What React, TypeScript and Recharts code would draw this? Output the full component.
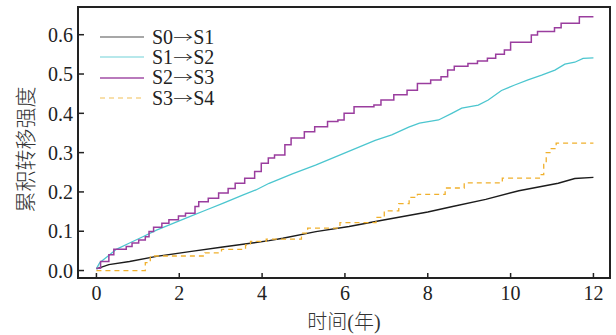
import React from "react";
import { LineChart, Line, XAxis, YAxis, ReferenceArea, Label } from "recharts";

// ---- data (time in years, cumulative intensity) ----
const s01T = [0, 0.3, 0.8, 1.45, 2.25, 3.05, 4.17, 4.5, 5.3, 6.1, 6.9, 8.0, 8.6, 9.4, 10.2, 11.15, 11.55, 12];
const s01V = [0.004, 0.015, 0.023, 0.036, 0.048, 0.06, 0.076, 0.082, 0.099, 0.112, 0.128, 0.149, 0.163, 0.181, 0.203, 0.222, 0.234, 0.237];

const s12T = [0, 0.08, 0.16, 0.32, 0.48, 0.8, 1.12, 1.45, 1.85, 2.25, 2.65, 3.05, 3.53, 3.85, 4.17, 4.73, 5.29, 5.77, 6.25, 6.73, 7.13, 7.54, 7.8, 8.26, 8.58, 8.82, 9.22, 9.46, 9.78, 10.1, 10.42, 10.75, 11.07, 11.31, 11.55, 11.75, 12];
const s12V = [0.005, 0.02, 0.027, 0.04, 0.054, 0.07, 0.086, 0.103, 0.12, 0.137, 0.154, 0.171, 0.192, 0.205, 0.222, 0.246, 0.268, 0.289, 0.31, 0.331, 0.345, 0.365, 0.375, 0.383, 0.4, 0.413, 0.421, 0.434, 0.458, 0.472, 0.485, 0.497, 0.51, 0.525, 0.53, 0.54, 0.541];

const s23T = [0, 0.1, 0.3, 0.42, 0.72, 0.86, 1.02, 1.18, 1.27, 1.38, 1.58, 1.75, 1.98, 2.15, 2.38, 2.47, 2.7, 2.95, 3.18, 3.35, 3.58, 3.82, 3.98, 4.15, 4.3, 4.55, 4.7, 5.02, 5.27, 5.58, 5.83, 5.98, 6.22, 6.7, 6.87, 7.18, 7.5, 7.75, 8.07, 8.32, 8.48, 8.64, 8.97, 9.2, 9.44, 9.64, 9.85, 10.0, 10.5, 10.65, 11.06, 11.22, 11.66, 12];
const s23V = [0.006, 0.023, 0.04, 0.054, 0.061, 0.07, 0.078, 0.086, 0.099, 0.11, 0.12, 0.129, 0.139, 0.146, 0.163, 0.175, 0.184, 0.197, 0.209, 0.222, 0.235, 0.252, 0.273, 0.286, 0.294, 0.32, 0.337, 0.353, 0.366, 0.379, 0.383, 0.4, 0.417, 0.421, 0.434, 0.447, 0.459, 0.476, 0.485, 0.493, 0.51, 0.52, 0.527, 0.533, 0.54, 0.55, 0.561, 0.581, 0.599, 0.608, 0.618, 0.629, 0.646, 0.646];

const s34T = [0, 1.18, 1.3, 2.62, 3.02, 3.6, 3.72, 4.1, 4.95, 5.1, 5.88, 6.75, 6.95, 7.3, 7.55, 7.75, 8.42, 8.88, 9.8, 10.72, 10.8, 10.86, 10.95, 11.1, 12];
const s34V = [0.0, 0.02, 0.037, 0.045, 0.054, 0.065, 0.074, 0.08, 0.095, 0.108, 0.122, 0.135, 0.152, 0.17, 0.186, 0.194, 0.21, 0.223, 0.235, 0.244, 0.27, 0.3, 0.31, 0.324, 0.324];

const xTicks = [0, 2, 4, 6, 8, 10, 12];
const yTicks = [0, 0.1, 0.2, 0.3, 0.4, 0.5, 0.6];

const X_DOMAIN: [number, number] = [-0.445, 12.4];
const Y_DOMAIN: [number, number] = [-0.019, 0.6705];

const toRows = (t: number[], v: number[]) => t.map((x, i) => ({ t: x, v: v[i] }));

const series = [
  { from: "S0", to: "S1", data: toRows(s01T, s01V), color: "#1c1c1c", width: 1.4, dash: undefined, type: "linear" as const, legendColor: "#8a8a8a" },
  { from: "S1", to: "S2", data: toRows(s12T, s12V), color: "#4cc6cf", width: 1.3, dash: undefined, type: "linear" as const, legendColor: "#9fe0e4" },
  { from: "S2", to: "S3", data: toRows(s23T, s23V), color: "#9a3d9e", width: 1.5, dash: undefined, type: "stepAfter" as const, legendColor: "#a24ea6" },
  { from: "S3", to: "S4", data: toRows(s34T, s34V), color: "#f0b02c", width: 1.3, dash: "5 4", type: "stepAfter" as const, legendColor: "#f6d58e" },
];

const FONT = '"Liberation Serif", "Times New Roman", "Noto Sans CJK SC", serif';
const CJK = '"Noto Sans CJK SC", serif';
const AXIS = "#222";

// ticks point inward, so draw line + label ourselves
// eslint-disable-next-line @typescript-eslint/no-explicit-any
const YTick = (props: any) => {
  const { x, y, payload } = props;
  const ax = x + 5;
  return (
    <g>
      <line x1={ax} x2={ax + 6} y1={y} y2={y} stroke={AXIS} strokeWidth={1.5} />
      <text x={x} y={y} dy="0.36em" textAnchor="end" fontSize={20} fontFamily={FONT} fill="#222">
        {Number(payload.value).toFixed(1)}
      </text>
    </g>
  );
};

// eslint-disable-next-line @typescript-eslint/no-explicit-any
const XTick = (props: any) => {
  const { x, y, payload } = props;
  const ay = y - 8;
  return (
    <g>
      <line x1={x} x2={x} y1={ay} y2={ay - 5} stroke={AXIS} strokeWidth={1.5} />
      <text x={x} y={y} dy="0.71em" textAnchor="middle" fontSize={20} fontFamily={FONT} fill="#222">
        {payload.value}
      </text>
    </g>
  );
};

// eslint-disable-next-line @typescript-eslint/no-explicit-any
const YTitle = (props: any) => {
  const { viewBox } = props;
  const cx = 24;
  const cy = viewBox.y + viewBox.height / 2 + 7;
  return (
    <text x={cx} y={cy} transform={`rotate(-90 ${cx} ${cy})`} textAnchor="middle" dominantBaseline="central" fontSize={21} fontFamily={CJK} fontWeight={300} fill="#333">
      累积转移强度
    </text>
  );
};

// eslint-disable-next-line @typescript-eslint/no-explicit-any
const XTitle = (props: any) => {
  const { viewBox } = props;
  const cx = viewBox.x + viewBox.width / 2;
  return (
    <text x={cx} y={329} textAnchor="middle" fontSize={20} fontFamily={FONT} fill="#333">
      <tspan fontFamily={CJK} fontWeight={300}>时间</tspan>
      <tspan>(</tspan>
      <tspan fontFamily={CJK} fontWeight={300}>年</tspan>
      <tspan>)</tspan>
    </text>
  );
};

export default function App() {
  return (
    <div style={{ position: "absolute", left: 0, top: 0, width: 616, height: 335, background: "#fff" }}>
      <LineChart width={616} height={335} margin={{ top: 7, right: 6, left: 0, bottom: 0 }}>
        <XAxis
          type="number"
          dataKey="t"
          domain={X_DOMAIN}
          ticks={xTicks}
          allowDataOverflow
          axisLine={false}
          tickLine={false}
          tickSize={0}
          tickMargin={8}
          height={57}
          tick={<XTick />}
        >
          <Label content={<XTitle />} />
        </XAxis>
        <YAxis
          type="number"
          domain={Y_DOMAIN}
          ticks={yTicks}
          allowDataOverflow
          axisLine={false}
          tickLine={false}
          tickSize={0}
          tickMargin={5}
          width={78}
          tick={<YTick />}
        >
          <Label content={<YTitle />} />
        </YAxis>
        {series.map((s) => (
          <Line
            key={s.from}
            data={s.data}
            dataKey="v"
            type={s.type}
            stroke={s.color}
            strokeWidth={s.width}
            strokeDasharray={s.dash}
            dot={false}
            activeDot={false}
            isAnimationActive={false}
          />
        ))}
        {/* plot frame */}
        <ReferenceArea
          x1={X_DOMAIN[0]}
          x2={X_DOMAIN[1]}
          y1={Y_DOMAIN[0]}
          y2={Y_DOMAIN[1]}
          fill="none"
          stroke={AXIS}
          strokeWidth={2}
        />
      </LineChart>

      {/* legend, top-left inside the frame */}
      <div style={{ position: "absolute", left: 100, top: 27, fontFamily: FONT, fontSize: 20, color: "#222" }}>
        {series.map((s) => (
          <div key={s.from} style={{ display: "flex", alignItems: "center", height: 20.3, whiteSpace: "nowrap" }}>
            <svg width={44} height={6} style={{ marginRight: 8 }}>
              <line x1={0} x2={44} y1={3} y2={3} stroke={s.legendColor} strokeWidth={1.3} strokeDasharray={s.dash} />
            </svg>
            <span>
              {s.from}
              <span
                style={{
                  fontFamily: CJK,
                  fontWeight: 300,
                  fontSize: 14,
                  display: "inline-block",
                  transform: "scaleX(1.4)",
                  margin: "0 3px",
                  verticalAlign: "2px",
                }}
              >
                →
              </span>
              {s.to}
            </span>
          </div>
        ))}
      </div>
    </div>
  );
}
